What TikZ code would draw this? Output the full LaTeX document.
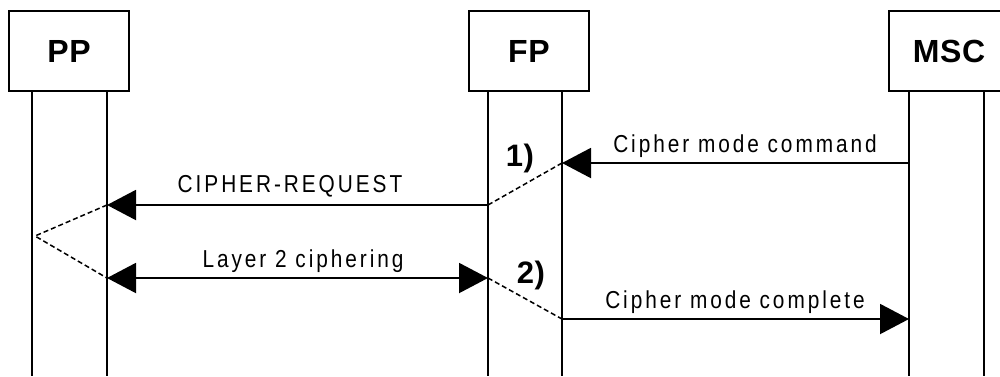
\documentclass[tikz,border=0pt]{standalone}
\usepackage{fontspec}
\setmainfont{Liberation Sans}
\newfontfamily\MsgFont{Liberation Sans}[FakeStretch=0.85,LetterSpace=12]
\newfontfamily\EntFont{Liberation Sans}[LetterSpace=2]
\usetikzlibrary{arrows.meta}
\tikzstyle{Entity}=[draw,line width=2pt,minimum width=120pt,minimum height=80pt,inner sep=0pt,
font=\EntFont\bfseries\fontsize{32}{36}\selectfont]
\tikzstyle{LifeLine}=[line width=2pt]
\tikzstyle{Msg}=[line width=2pt,-{Triangle[length=29pt,width=30pt]}]
\tikzstyle{MsgBoth}=[line width=2pt,{Triangle[length=29pt,width=30pt]}-{Triangle[length=29pt,width=30pt]}]
\tikzstyle{DashLink}=[line width=1.5pt,dash pattern=on 5pt off 3pt]
\tikzstyle{MsgText}=[font=\MsgFont\fontsize{24.5}{29}\selectfont,inner sep=0pt,anchor=base]
\tikzstyle{StepText}=[font=\EntFont\bfseries\fontsize{31}{35}\selectfont,inner sep=0pt]

\begin{document}
\begin{tikzpicture}[x=1pt,y=-1pt]
        \useasboundingbox(0,0)rectangle(1000,376);
        % entities
        \node[Entity](pp)at(69,51){PP};
        \node[Entity](fp)at(529,51){FP};
        \node[Entity](msc)at(949,51){MSC};
        % lifelines
        \coordinate(ppA)at(32,376);
        \coordinate(ppB)at(107,376);
        \coordinate(fpA)at(488,376);
        \coordinate(fpB)at(562,376);
        \coordinate(mscA)at(909,376);
        \coordinate(mscB)at(984,376);
        \draw[LifeLine](pp.south-|ppA)--(ppA);
        \draw[LifeLine](pp.south-|ppB)--(ppB);
        \draw[LifeLine](fp.south-|fpA)--(fpA);
        \draw[LifeLine](fp.south-|fpB)--(fpB);
        \draw[LifeLine](msc.south-|mscA)--(mscA);
        \draw[LifeLine](msc.south-|mscB)--(mscB);
        % messages
        \coordinate(m1s)at(909,163);
        \coordinate(m1e)at(562,163);
        \coordinate(m2s)at(488,205);
        \coordinate(m2e)at(107,205);
        \coordinate(turn)at(35,236);
        \coordinate(m3s)at(107,278);
        \coordinate(m3e)at(488,278);
        \coordinate(m4s)at(562,319);
        \coordinate(m4e)at(909,319);
        \draw[Msg](m1s)--(m1e);
        \draw[DashLink](m1e)--(m2s);
        \draw[Msg](m2s)--(m2e);
        \draw[DashLink](m2e)--(turn)--(m3s);
        \draw[MsgBoth](m3s)--(m3e);
        \draw[DashLink](m3e)--(m4s);
        \draw[Msg](m4s)--(m4e);
        % labels
        \node[MsgText](cmd)at(745,152){Cipher mode command};
        \node[MsgText](req)at(290,192){CIPHER-REQUEST};
        \node[MsgText](lay)at(303,267){Layer 2 ciphering};
        \node[MsgText](cpl)at(735,308){Cipher mode complete};
        \node[StepText](one)at(520,158){1)};
        \node[StepText](two)at(531,275){2)};
    \end{tikzpicture}
\end{document}
